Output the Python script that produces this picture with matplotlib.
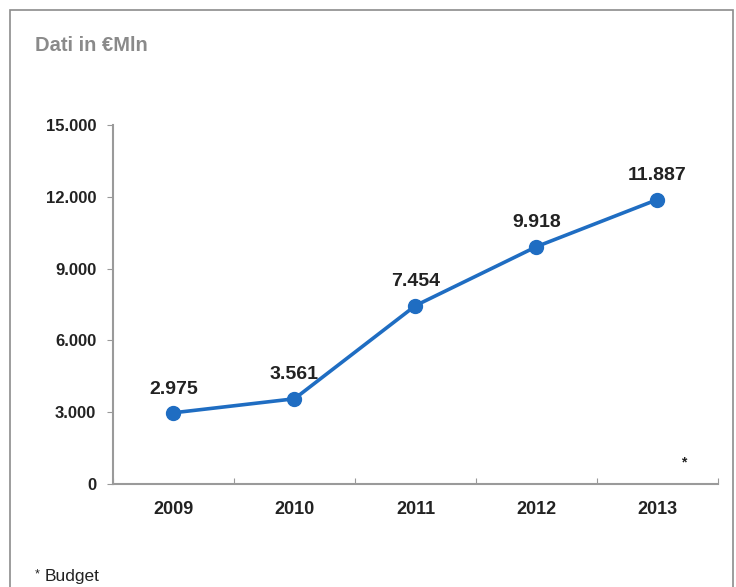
import matplotlib.pyplot as plt
from matplotlib.patches import Rectangle

plt.rcParams['font.family'] = ['Liberation Sans', 'DejaVu Sans']

years = ['2009', '2010', '2011', '2012', '2013']
values = [2975, 3561, 7454, 9918, 11887]
labels = ['2.975', '3.561', '7.454', '9.918', '11.887']
yticks = [0, 3000, 6000, 9000, 12000, 15000]
ytick_labels = ['0', '3.000', '6.000', '9.000', '12.000', '15.000']

blue = '#1f6dc2'

fig = plt.figure(figsize=(7.36, 5.87), dpi=100)
ax = fig.add_axes([0.1535, 0.1755, 0.822, 0.6115])

# outer frame of the slide
fig.patches.append(Rectangle((0.0136, -0.05), 0.982, 1.033, transform=fig.transFigure,
                             fill=False, edgecolor='#8c8c8c', linewidth=1.2))

xs = [i + 0.5 for i in range(len(years))]
ax.plot(xs, values, color=blue, linewidth=2.6, marker='o', markersize=10,
        markerfacecolor=blue, markeredgecolor=blue)

for x, v, lab in zip(xs, values, labels):
    ax.annotate(lab, (x, v), xytext=(0, 11), textcoords='offset points',
                ha='center', va='bottom', fontsize=14, fontweight='bold', color='#222222')

ax.set_xlim(0, 5)
ax.set_ylim(0, 15000)
ax.set_yticks(yticks)
ax.set_yticklabels(ytick_labels, fontsize=12, fontweight='bold', color='#222222')
ax.set_xticks(range(6))
ax.set_xticklabels([])
ax.set_xticks(xs, minor=True)
ax.set_xticklabels(years, minor=True, fontsize=13, fontweight='bold', color='#222222')
ax.tick_params(axis='x', which='major', direction='in', length=4, color='#999999')
ax.tick_params(axis='x', which='minor', length=0, pad=12)
ax.tick_params(axis='y', direction='out', length=4, color='#999999', pad=8)

for side in ['top', 'right']:
    ax.spines[side].set_visible(False)
for side in ['left', 'bottom']:
    ax.spines[side].set_color('#9a9a9a')
    ax.spines[side].set_linewidth(1.5)

fig.text(0.047, 0.923, 'Dati in €Mln', fontsize=14.5, fontweight='bold', color='#8a8a8a',
         va='center', ha='left')
fig.text(0.929, 0.213, '*', fontsize=10, fontweight='bold', color='#222222', ha='center', va='center')
fig.text(0.047, 0.022, '*', fontsize=9, color='#222222', ha='left', va='center')
fig.text(0.060, 0.018, 'Budget', fontsize=12.5, color='#222222', ha='left', va='center')

fig.savefig('out.png', dpi=100)
